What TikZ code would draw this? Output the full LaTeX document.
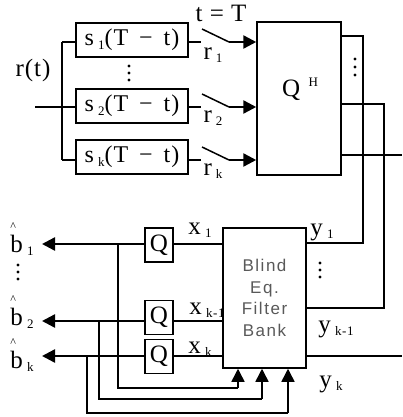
\documentclass[tikz,border=0pt]{standalone}
\usepackage{fontspec}
\setmainfont{Liberation Serif}[LetterSpace=4]
\newfontfamily\sansf{Liberation Sans}[LetterSpace=9]
\usetikzlibrary{arrows.meta}
\newcommand{\mysb}[1]{\,\raisebox{-0.3ex}{\fontsize{13}{13}\selectfont #1}}
\newcommand{\mysp}[1]{\,\raisebox{0.85ex}{\fontsize{13}{13}\selectfont #1}}
\begin{document}
\begin{tikzpicture}[x=1pt,y=-1pt,line width=1.5pt,
  fbox/.style={draw,minimum width=112pt,minimum height=34pt,inner sep=0pt,font=\fontsize{24}{24}\selectfont},
  qbox/.style={draw,minimum width=28pt,minimum height=34pt,inner sep=0pt,font=\fontsize{25}{25}\selectfont},
  lbl/.style={inner sep=0pt,font=\fontsize{25}{25}\selectfont},
  blbl/.style={inner sep=0pt,align=left,font=\fontsize{25}{25}\selectfont},
  arr/.style={line width=2.4pt,-{Triangle[length=13pt,width=13pt]}},
  dot/.style={fill,circle,inner sep=0pt,minimum size=3.4pt}]
\useasboundingbox (0,0) rectangle (402,417);
% matched filters
\node[fbox] (s1) at (132,40) {s\mysb{1}(T \,−\, t)};
\node[fbox] (s2) at (132,106) {s\mysb{2}(T \,−\, t)};
\node[fbox] (sk) at (132,157) {s\mysb{k}(T \,−\, t)};
\node[lbl] (rt) at (33,70) {r(t)};
\coordinate (in) at (35,107);
\coordinate (bt) at (62,42);
\coordinate (bb) at (62,160);
\draw (in) -- (s2.west |- in);
\draw (bt) -- (bb);
\draw (bt) -- (s1.west |- bt);
\draw (bb) -- (sk.west |- bb);
\node[dot] (d1) at (129,66) {};
\node[dot] (d2) at (129,73) {};
\node[dot] (d3) at (129,80) {};
% Q^H
\node[draw,minimum width=84pt,minimum height=153pt,inner sep=0pt] (QH) at (299,98.5) {};
\node[lbl] (qhl) at (300,89) {Q\,\mysp{H}};
% switches
\node[lbl] (tT) at (221,13) {t = T};
\foreach \n/\y/\b in {1/42/s1,2/107/s2,3/160/sk}{
  \coordinate (a\n) at (201,\y);
  \coordinate (p\n) at (202,\y-13);
  \coordinate (c\n) at (229,\y);
  \draw (\b.east |- a\n) -- (a\n);
  \draw (p\n) -- (c\n);
  \draw[arr] (c\n) -- (QH.west |- c\n);
}
\node[lbl] (r1) at (213,55) {r\mysb{1}};
\node[lbl] (r2) at (213,118) {r\mysb{2}};
\node[lbl] (rk) at (213,171) {r\mysb{k}};
% QH outputs
\node[dot] (e1) at (355,59) {};
\node[dot] (e2) at (355,67) {};
\node[dot] (e3) at (355,75) {};
% blind eq
\node[draw,minimum width=83pt,minimum height=140pt,inner sep=0pt,align=center,
  font=\sansf\fontsize{17}{21.5}\selectfont,text=black!65] (BE) at (264.5,298)
  {Blind\\Eq.\\Filter\\Bank};
\coordinate (o1) at (341,36);
\coordinate (o2) at (341,104);
\coordinate (o3) at (341,155);
\coordinate (o3e) at (402,155);
\coordinate (u1) at (363,243);
\coordinate (u2) at (384,308);
\coordinate (yk) at (306,356);
\coordinate (yke) at (402,356);
\draw (o1) -| (u1) -- (BE.east |- u1);
\draw (o2) -| (u2) -- (BE.east |- u2);
\draw (o3) -- (o3e);
\draw (yk) -- (yke);
\node[lbl] (y1) at (322,232) {y\mysb{1}};
\node[dot] (f1) at (320,263) {};
\node[dot] (f2) at (320,270) {};
\node[dot] (f3) at (320,277) {};
\node[lbl] (yk1) at (336,329) {y\mysb{k-1}};
\node[lbl] (ykl) at (331,384) {y\mysb{k}};
% Q quantizers
\node[qbox] (Q1) at (159,245) {Q};
\node[qbox] (Q2) at (159,317.5) {Q};
\node[qbox] (Q3) at (159,356.5) {Q};
\coordinate (w1) at (223,244);
\coordinate (w2) at (223,321);
\coordinate (w3) at (223,356);
\draw (w1) -- (Q1.east |- w1);
\draw (w2) -- (Q2.east |- w2);
\draw (w3) -- (Q3.east |- w3);
\coordinate (t1) at (42,244);
\coordinate (t2) at (42,321);
\coordinate (t3) at (42,356);
\draw[arr] (Q1.west |- t1) -- (t1);
\draw[arr] (Q2.west |- t2) -- (t2);
\draw[arr] (Q3.west |- t3) -- (t3);
\node[lbl] (x1) at (200,230) {x\mysb{1}};
\node[lbl] (xk1) at (207,310) {x\mysb{k-1}};
\node[lbl] (xk) at (200,349) {x\mysb{k}};
% outputs b
\node[blbl] (b1) at (22,239) {{\fontsize{12}{12}\selectfont\textasciicircum}\\[-3pt]b\mysb{1}};
\node[blbl] (b2) at (22,312) {{\fontsize{12}{12}\selectfont\textasciicircum}\\[-3pt]b\mysb{2}};
\node[blbl] (bk) at (22,355) {{\fontsize{12}{12}\selectfont\textasciicircum}\\[-3pt]b\mysb{k}};
\node[dot] (g1) at (18,265) {};
\node[dot] (g2) at (18,272) {};
\node[dot] (g3) at (18,279) {};
% feedback
\coordinate (k1) at (118,244);
\coordinate (k2) at (99,321);
\coordinate (k3) at (87,356);
\coordinate (m1) at (238,388);
\coordinate (m2) at (262,399);
\coordinate (m3) at (288,413);
\draw (k1) |- (m1);
\draw[arr,line width=1.5pt] (m1) -- (BE.south -| m1);
\draw (k2) |- (m2);
\draw[arr,line width=1.5pt] (m2) -- (BE.south -| m2);
\draw (k3) |- (m3);
\draw[arr,line width=1.5pt] (m3) -- (BE.south -| m3);
\end{tikzpicture}
\end{document}
